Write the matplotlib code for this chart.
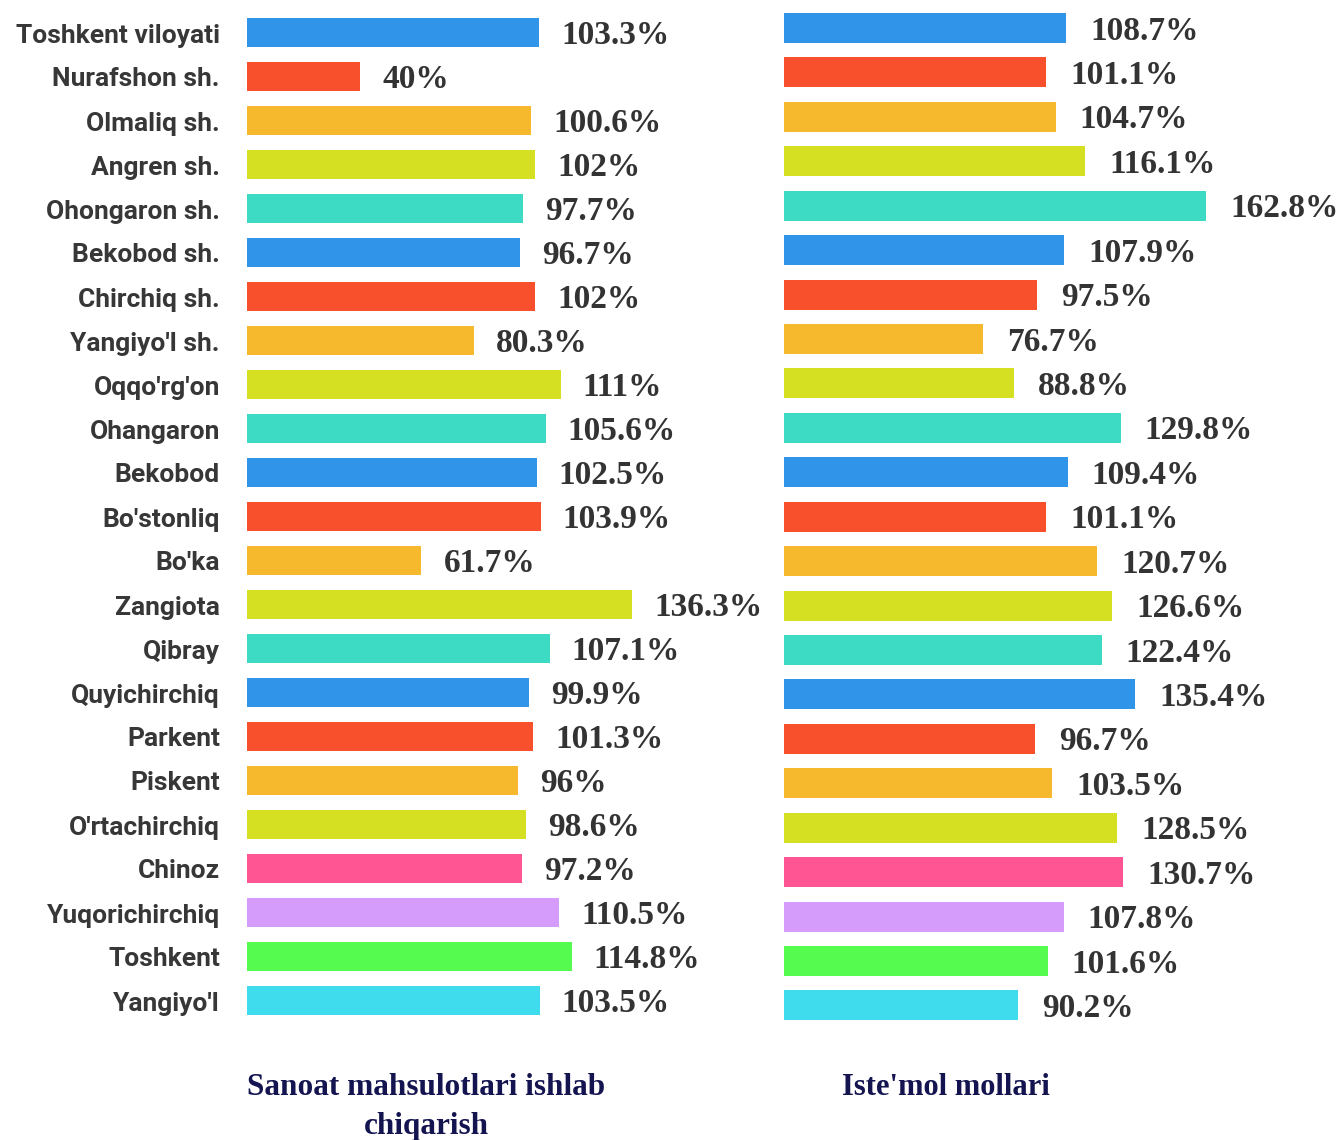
import matplotlib
matplotlib.use("Agg")
import matplotlib.pyplot as plt
from matplotlib.transforms import offset_copy

categories = ["Toshkent viloyati", "Nurafshon sh.", "Olmaliq sh.", "Angren sh.", "Ohongaron sh.",
              "Bekobod sh.", "Chirchiq sh.", "Yangiyo'l sh.", "Oqqo'rg'on", "Ohangaron",
              "Bekobod", "Bo'stonliq", "Bo'ka", "Zangiota", "Qibray", "Quyichirchiq",
              "Parkent", "Piskent", "O'rtachirchiq", "Chinoz", "Yuqorichirchiq", "Toshkent", "Yangiyo'l"]
sanoat = [103.3, 40, 100.6, 102, 97.7, 96.7, 102, 80.3, 111, 105.6, 102.5, 103.9, 61.7,
          136.3, 107.1, 99.9, 101.3, 96, 98.6, 97.2, 110.5, 114.8, 103.5]
istemol = [108.7, 101.1, 104.7, 116.1, 162.8, 107.9, 97.5, 76.7, 88.8, 129.8, 109.4, 101.1,
           120.7, 126.6, 122.4, 135.4, 96.7, 103.5, 128.5, 130.7, 107.8, 101.6, 90.2]
colors = ["#3094E9", "#F84F2C", "#F6B82C", "#D6E022", "#3DDBC3",
          "#3094E9", "#F84F2C", "#F6B82C", "#D6E022", "#3DDBC3",
          "#3094E9", "#F84F2C", "#F6B82C", "#D6E022", "#3DDBC3",
          "#3094E9", "#F84F2C", "#F6B82C", "#D6E022", "#FF5592",
          "#D69CFB", "#55FB4F", "#3EDCEC"]
titles = ["Sanoat mahsulotlari ishlab\nchiqarish", "Iste'mol mollari"]

W, H = 1343, 1140
fig = plt.figure(figsize=(W / 100, H / 100), dpi=100)

def make_axes(x0, top, bottom, xmax_px, xmax):
    ax = fig.add_axes([x0 / W, 1 - bottom / H, xmax_px / W, (bottom - top) / H])
    ax.set_xlim(0, xmax)
    ax.set_axis_off()
    return ax

n = len(categories)
axL = make_axes(247, 32.5 - 22, 1000.5 + 22, 180 * 2.827, 180)
axR = make_axes(784, 28 - 22.2, 1005.5 + 22.2, 215 * 2.594, 215)
for ax, vals, bh, dx in [(axL, sanoat, 0.68, 22), (axR, istemol, 0.675, 24)]:
    ax.set_ylim(n - 0.5, -0.5)
    ypos = list(range(n))
    ax.barh(ypos, vals, height=bh, color=colors)
    tr = offset_copy(ax.transData, fig=fig, x=dx, y=-3, units="dots")
    for y, v in zip(ypos, vals):
        s = f"{v:g}%"
        ax.text(v, y, s, transform=tr, ha="left", va="center", fontsize=24,
                family="Liberation Serif", fontweight="bold", color="#333333", clip_on=False)

for y, c in zip(range(n), categories):
    tr = offset_copy(axL.transData, fig=fig, x=-27, y=-3, units="dots")
    axL.text(0, y, c, transform=tr, ha="right", va="center", fontsize=19,
             family=["Roboto", "DejaVu Sans"], fontweight="bold", color="#373737", clip_on=False)

fig.text(426 / W, 1 - 1073 / H, titles[0], ha="center", va="top", fontsize=22.5,
         family="Liberation Serif", fontweight="bold", color="#141450", linespacing=1.45)
fig.text(946 / W, 1 - 1073 / H, titles[1], ha="center", va="top", fontsize=22,
         family="Liberation Serif", fontweight="bold", color="#141450")
fig.savefig("out.png", dpi=100, facecolor="white")
